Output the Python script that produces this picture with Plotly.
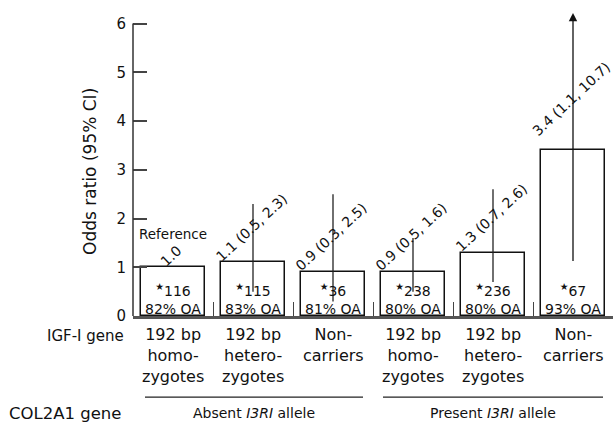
import plotly.graph_objects as go

# ---- data ----
odds_ratio = [1.0, 1.1, 0.9, 0.9, 1.3, 3.4]
ci_low = [None, 0.5, 0.3, 0.5, 0.7, 1.1]
ci_high = [None, 2.3, 2.5, 1.6, 2.6, 10.7]
n_subjects = [116, 115, 36, 238, 236, 67]
pct_oa = [82, 83, 81, 80, 80, 93]
igf_labels = ["192 bp<br>homo-<br>zygotes", "192 bp<br>hetero-<br>zygotes", "Non-<br>carriers",
              "192 bp<br>homo-<br>zygotes", "192 bp<br>hetero-<br>zygotes", "Non-<br>carriers"]
group_labels = ["Absent <i>I3RI</i> allele", "Present <i>I3RI</i> allele"]
y_ticks = [0, 1, 2, 3, 4, 5, 6]

FONT = "DejaVu Sans"
x = list(range(len(odds_ratio)))
Y_MAX = 6.3
ARROW_TOP = 6.22

fig = go.Figure()
fig.add_trace(go.Bar(
    x=x, y=odds_ratio, width=0.79,
    marker=dict(color="white", line=dict(color="#111", width=1.5)),
    showlegend=False, hoverinfo="skip",
))

# CI lines
for i, (lo, hi) in enumerate(zip(ci_low, ci_high)):
    if lo is None:
        continue
    if hi <= Y_MAX:
        fig.add_trace(go.Scatter(x=[i, i], y=[lo, hi], mode="lines",
                                 line=dict(color="#222", width=1.3),
                                 showlegend=False, hoverinfo="skip"))
    else:
        fig.add_annotation(x=i, y=ARROW_TOP, ax=i, ay=lo, xref="x", yref="y",
                           axref="x", ayref="y", text="", showarrow=True,
                           arrowhead=2, arrowsize=1.3, arrowwidth=1.3,
                           arrowcolor="#111")

# rotated labels
for i, v in enumerate(odds_ratio):
    if ci_low[i] is None:
        txt = f"{v:.1f}"
    else:
        txt = f"{v:.1f} ({ci_low[i]:.1f}, {ci_high[i]:.1f})"
    extra = 14 if (ci_high[i] is not None and ci_high[i] > Y_MAX) else 0
    fig.add_annotation(x=i, y=v, xref="x", yref="y", text=txt, textangle=-43,
                       showarrow=False, xanchor="center", yanchor="bottom",
                       yshift=-5 + extra, xshift=-2,
                       font=dict(family=FONT, size=14, color="#111"))
    if ci_low[i] is None:
        fig.add_annotation(x=i, y=v, xref="x", yref="y", text="Reference",
                           showarrow=False, xanchor="center", yanchor="bottom",
                           yshift=23, font=dict(family=FONT, size=13.5, color="#111"))

# inside-bar labels
for i, (n, p) in enumerate(zip(n_subjects, pct_oa)):
    fig.add_annotation(x=i, y=0, xref="x", yref="y",
                       text=f"<sup>★</sup>{n}<br>{p}% OA", showarrow=False,
                       xanchor="center", yanchor="bottom", yshift=-3,
                       font=dict(family=FONT, size=14, color="#111"))

# category labels
for i, lab in enumerate(igf_labels):
    fig.add_annotation(x=i, y=0, xref="x", yref="paper", text=lab,
                       showarrow=False, xanchor="center", yanchor="top",
                       yshift=-7, font=dict(family=FONT, size=16, color="#111"))

fig.add_annotation(x=-0.015, y=0, xref="paper", yref="paper", text="IGF-I gene",
                   showarrow=False, xanchor="right", yanchor="top", yshift=-9,
                   font=dict(family=FONT, size=15, color="#111"))
fig.add_annotation(x=-0.262, y=-0.316, xref="paper", yref="paper", text="COL2A1 gene",
                   showarrow=False, xanchor="left", yanchor="middle",
                   font=dict(family=FONT, size=16.5, color="#111"))

# group lines and labels
group_spans = [(-0.35, 2.375), (2.625, 5.375)]
for (a, b), lab in zip(group_spans, group_labels):
    fig.add_shape(type="line", xref="x", yref="paper", x0=a, x1=b,
                  y0=-0.264, y1=-0.264, line=dict(color="#222", width=1.3))
    fig.add_annotation(x=(a + b) / 2, y=-0.316, xref="x", yref="paper", text=lab,
                       showarrow=False, xanchor="center", yanchor="middle",
                       font=dict(family=FONT, size=14, color="#111"))

# y-axis line from 0 to 6
fig.add_shape(type="line", xref="paper", yref="y", x0=0, x1=0, y0=0, y1=max(y_ticks),
              line=dict(color="#333", width=1.5))

# y-axis title
fig.add_annotation(x=-0.09, y=0.472, xref="paper", yref="paper",
                   text="Odds ratio (95% CI)", textangle=-90, showarrow=False,
                   xanchor="center", yanchor="middle",
                   font=dict(family=FONT, size=17, color="#111"))

fig.update_xaxes(range=[-0.5, 5.5], showgrid=False, zeroline=False,
                 showline=True, linecolor="#555", linewidth=2.5,
                 tickmode="array", tickvals=[0.5, 1.5, 2.5, 3.5, 4.5],
                 ticks="inside", ticklen=14, tickwidth=1.3, tickcolor="#444",
                 showticklabels=False)
fig.update_yaxes(range=[0, Y_MAX], showgrid=False, zeroline=False, showline=False,
                 tickmode="array", tickvals=y_ticks, ticks="inside", ticklen=14,
                 tickwidth=1.5, tickcolor="#444", ticklabelstandoff=6,
                 tickfont=dict(family=FONT, size=15, color="#111"))

fig.update_layout(width=613, height=423, margin=dict(l=133, r=0, t=9, b=107),
                  plot_bgcolor="white", paper_bgcolor="white", bargap=0,
                  font=dict(family=FONT))

fig.write_html("out.html", config={"displayModeBar": False},
               post_script="document.body.style.margin='0';")
